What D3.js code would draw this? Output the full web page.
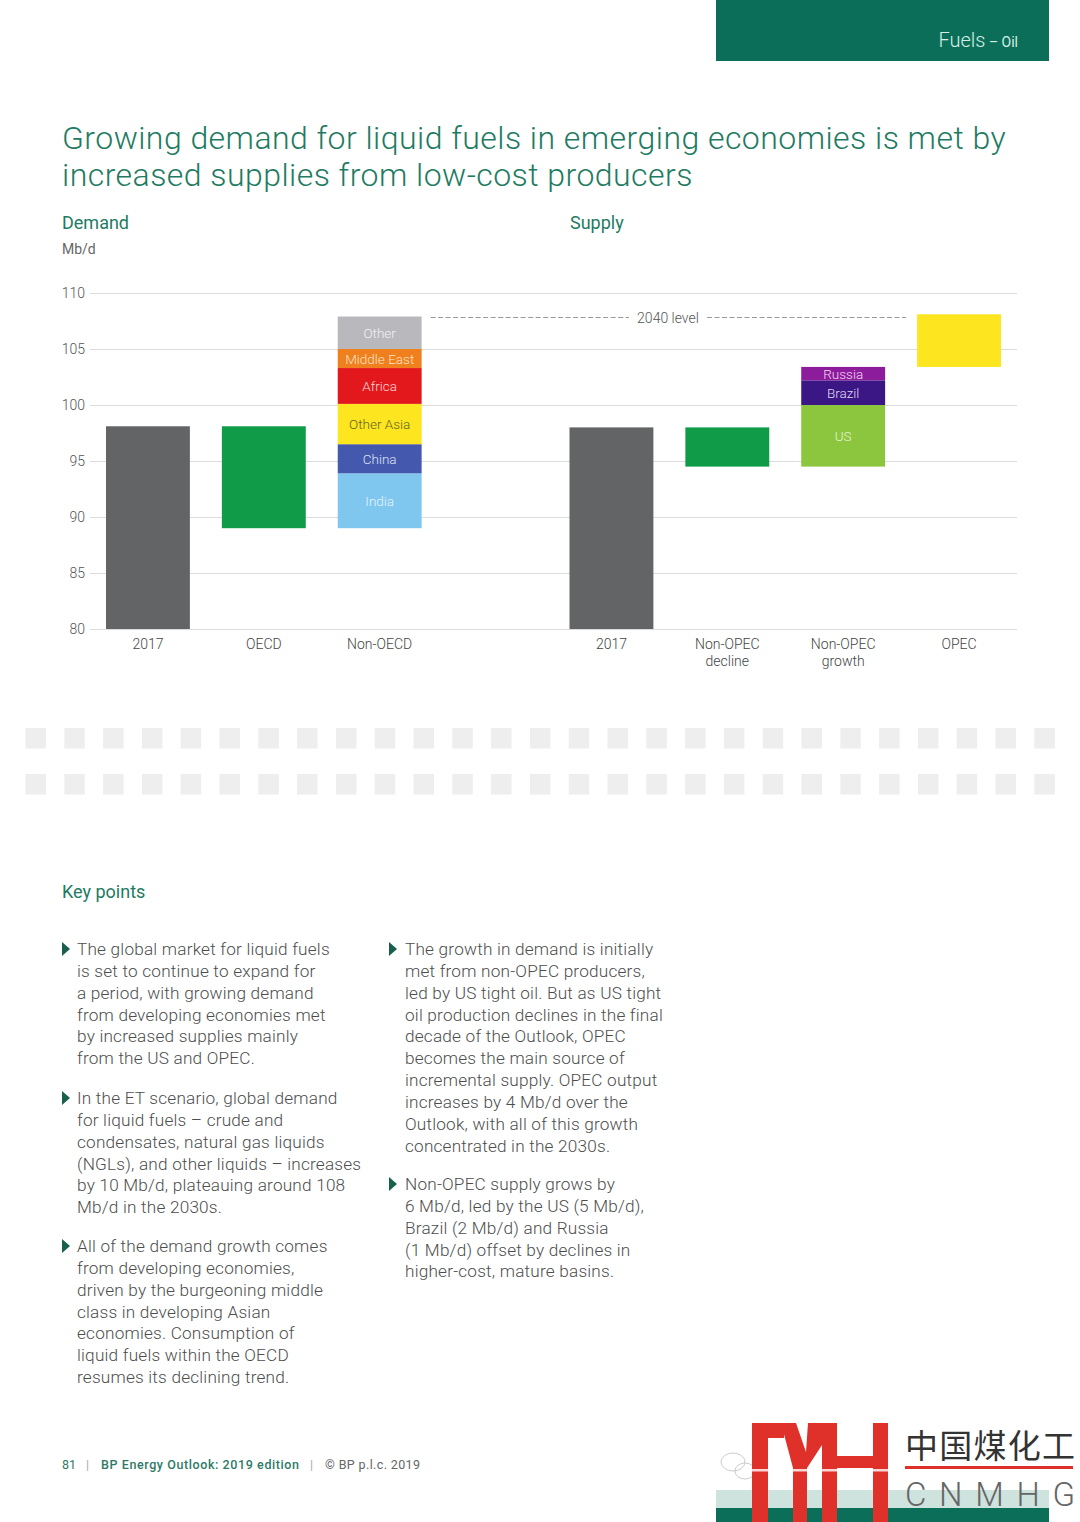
<!DOCTYPE html>
<html>
<head>
<meta charset="utf-8">
<script src="https://cdnjs.cloudflare.com/ajax/libs/d3/7.8.5/d3.min.js"></script>
<style>
  body { margin: 0; background: #fff; }
  svg { display: block; font-family: Roboto, "Liberation Sans", sans-serif; }
</style>
</head>
<body>
<script>
var w = 1080;
var h = 1522;

// slots along the x axis (one empty slot between demand and supply)
var slots = ["2017 demand", "OECD", "Non-OECD", "gap", "2017 supply", "Non-OPEC decline", "Non-OPEC growth", "OPEC"];
var slotLabels = [["2017"], ["OECD"], ["Non-OECD"], [], ["2017"], ["Non-OPEC", "decline"], ["Non-OPEC", "growth"], ["OPEC"]];
var yTicks = [80, 85, 90, 95, 100, 105, 110];

// demand, Mb/d
var demand2017 = 98.1;
var oecdChange = -9.1;
var nonOecdRegions = ["India", "China", "Other Asia", "Africa", "Middle East", "Other"];
var nonOecdValues = [4.9, 2.6, 3.6, 3.2, 1.7, 2.9];

// supply, Mb/d
var supply2017 = 98.0;
var nonOpecDecline = -3.5;
var growthRegions = ["US", "Brazil", "Russia"];
var growthValues = [5.5, 2.2, 1.2];
var opecChange = 4.7;

var colors = {
    "2017": "#636466", "OECD": "#0f9b47", "India": "#80c7ef", "China": "#4459ad",
    "Other Asia": "#fde51f", "Africa": "#e3181d", "Middle East": "#f07f1e", "Other": "#b9b9bd",
    "decline": "#0f9b47", "US": "#8cc63f", "Brazil": "#3a1785", "Russia": "#8c1c9c", "OPEC": "#fde51f"
};
var labelColors = {
    "India": "#e6f4fc", "China": "#dde2f5", "Other Asia": "#66661e", "Africa": "#fbd6d6",
    "Middle East": "#fde2c4", "Other": "#f2f2f2", "US": "#e4f3cf", "Brazil": "#e0d8f0", "Russia": "#f4d4f6"
};

// build waterfall segments
var segs = [];
segs.push({slot: "2017 demand", y0: 80, y1: demand2017, color: colors["2017"]});
var oecdEnd = demand2017 + oecdChange;
segs.push({slot: "OECD", y0: oecdEnd, y1: demand2017, color: colors["OECD"]});
var acc = oecdEnd;
nonOecdRegions.forEach(function (r, i) {
    segs.push({slot: "Non-OECD", y0: acc, y1: acc + nonOecdValues[i], color: colors[r], label: r});
    acc += nonOecdValues[i];
});
var level2040 = acc;
segs.push({slot: "2017 supply", y0: 80, y1: supply2017, color: colors["2017"]});
var declEnd = supply2017 + nonOpecDecline;
segs.push({slot: "Non-OPEC decline", y0: declEnd, y1: supply2017, color: colors["decline"]});
acc = declEnd;
growthRegions.forEach(function (r, i) {
    segs.push({slot: "Non-OPEC growth", y0: acc, y1: acc + growthValues[i], color: colors[r], label: r});
    acc += growthValues[i];
});
segs.push({slot: "OPEC", y0: acc, y1: acc + opecChange, color: colors["OPEC"]});

var svg = d3.select("body")
    .append("svg")
    .attr("width", w)
    .attr("height", h);

// header tab
svg.append("rect").attr("x", 716).attr("y", 0).attr("width", 333).attr("height", 61).attr("fill", "#0b6e59");
var ht = svg.append("text").attr("x", 1018).attr("y", 47).attr("text-anchor", "end").attr("fill", "#d6efe6");
ht.append("tspan").attr("font-size", 20).attr("font-weight", 300).text("Fuels");
ht.append("tspan").attr("font-size", 14).text(" \u2013 Oil");

// title
var teal = "#1e7b62";
svg.append("text").attr("x", 62).attr("y", 149).attr("font-size", 32).attr("font-weight", 300)
    .attr("letter-spacing", 0.45).attr("fill", teal)
    .text("Growing demand for liquid fuels in emerging economies is met by");
svg.append("text").attr("x", 62).attr("y", 186).attr("font-size", 32).attr("font-weight", 300)
    .attr("letter-spacing", 0.45).attr("fill", teal)
    .text("increased supplies from low-cost producers");

svg.append("text").attr("x", 62).attr("y", 229).attr("font-size", 18).attr("fill", teal).text("Demand");
svg.append("text").attr("x", 570).attr("y", 229).attr("font-size", 18).attr("fill", teal).text("Supply");
svg.append("text").attr("x", 62).attr("y", 254).attr("font-size", 14).attr("fill", "#666").text("Mb/d");

// scales
var x = d3.scaleBand().domain(slots).range([90, 1017]).paddingInner(0.276).paddingOuter(0.138);
var y = d3.scaleLinear().domain([80, 110]).range([629, 293]);

var grid = svg.append("g");
grid.selectAll("line").data(yTicks).enter().append("line")
    .attr("x1", 90).attr("x2", 1017)
    .attr("y1", function (d) { return y(d) + 0.5; })
    .attr("y2", function (d) { return y(d) + 0.5; })
    .attr("stroke", "#dcdcdc").attr("stroke-width", 1);

var yAxis = svg.append("g").attr("transform", "translate(90,0)")
    .call(d3.axisLeft(y).tickValues(yTicks).tickSize(0).tickPadding(5));
yAxis.select(".domain").remove();
yAxis.selectAll("text").attr("font-size", 14).attr("font-weight", 300).attr("fill", "#555")
    .attr("font-family", "Roboto, sans-serif");

// bars
svg.append("g").selectAll("rect").data(segs).enter().append("rect")
    .attr("x", function (d) { return x(d.slot); })
    .attr("width", x.bandwidth())
    .attr("y", function (d) { return y(d.y1); })
    .attr("height", function (d) { return y(d.y0) - y(d.y1); })
    .attr("fill", function (d) { return d.color; });

svg.append("g").selectAll("text").data(segs.filter(function (d) { return d.label; })).enter().append("text")
    .attr("x", function (d) { return x(d.slot) + x.bandwidth() / 2; })
    .attr("y", function (d) { return (y(d.y0) + y(d.y1)) / 2 + 5; })
    .attr("text-anchor", "middle")
    .attr("font-size", 13.5)
    .attr("font-weight", 300)
    .attr("fill", function (d) { return labelColors[d.label]; })
    .text(function (d) { return d.label; });

// x labels
var xl = svg.append("g").selectAll("text").data(slots).enter().append("text")
    .attr("x", function (d) { return x(d) + x.bandwidth() / 2; })
    .attr("y", 649)
    .attr("text-anchor", "middle")
    .attr("font-size", 14)
    .attr("font-weight", 300)
    .attr("fill", "#444");
xl.each(function (d, i) {
    var t = d3.select(this);
    slotLabels[i].forEach(function (s, j) {
        t.append("tspan").attr("x", x(d) + x.bandwidth() / 2).attr("dy", j ? 17 : 0).text(s);
    });
});

// 2040 level dashed line
var ly = Math.round(y(level2040)) + 0.5;
var lx0 = x("Non-OECD") + x.bandwidth() + 9;
var lx1 = x("OPEC") - 11;
svg.append("line").attr("x1", lx0).attr("x2", 629).attr("y1", ly).attr("y2", ly)
    .attr("stroke", "#9a9a9a").attr("stroke-dasharray", "5,2.5");
svg.append("line").attr("x1", 707).attr("x2", lx1).attr("y1", ly).attr("y2", ly)
    .attr("stroke", "#9a9a9a").attr("stroke-dasharray", "5,2.5");
svg.append("text").attr("x", 668).attr("y", ly + 5).attr("text-anchor", "middle")
    .attr("font-size", 14).attr("font-weight", 300).attr("fill", "#555").text("2040 level");

// decorative square rows
[728, 774].forEach(function (ry) {
    svg.append("g").selectAll("rect").data(d3.range(27)).enter().append("rect")
        .attr("x", function (i) { return 25.5 + i * 38.8; })
        .attr("y", ry).attr("width", 20.5).attr("height", 20.5)
        .attr("fill", "#eeeeef");
});

// key points
svg.append("text").attr("x", 62).attr("y", 898).attr("font-size", 18).attr("fill", teal).text("Key points");

var col1 = [
    ["The global market for liquid fuels", "is set to continue to expand for", "a period, with growing demand",
     "from developing economies met", "by increased supplies mainly", "from the US and OPEC."],
    ["In the ET scenario, global demand", "for liquid fuels \u2013 crude and", "condensates, natural gas liquids",
     "(NGLs), and other liquids \u2013 increases", "by 10 Mb/d, plateauing around 108", "Mb/d in the 2030s."],
    ["All of the demand growth comes", "from developing economies,", "driven by the burgeoning middle",
     "class in developing Asian", "economies. Consumption of", "liquid fuels within the OECD",
     "resumes its declining trend."]
];
var col2 = [
    ["The growth in demand is initially", "met from non-OPEC producers,", "led by US tight oil. But as US tight",
     "oil production declines in the final", "decade of the Outlook, OPEC", "becomes the main source of",
     "incremental supply. OPEC output", "increases by 4 Mb/d over the", "Outlook, with all of this growth",
     "concentrated in the 2030s."],
    ["Non-OPEC supply grows by", "6 Mb/d, led by the US (5 Mb/d),", "Brazil (2 Mb/d) and Russia",
     "(1 Mb/d) offset by declines in", "higher-cost, mature basins."]
];

function drawColumn(paras, bx, tx, starts) {
    paras.forEach(function (lines, p) {
        var top = starts[p];
        svg.append("path")
            .attr("d", "M" + bx + "," + (top - 13) + "L" + (bx + 8) + "," + (top - 6) + "L" + bx + "," + (top + 1) + "Z")
            .attr("fill", "#17604c");
        var t = svg.append("text").attr("font-size", 17.2).attr("font-weight", 300)
            .attr("letter-spacing", 0.2).attr("fill", "#4d4d4d");
        lines.forEach(function (s, j) {
            t.append("tspan").attr("x", tx).attr("y", top + j * 21.85).text(s);
        });
    });
}
drawColumn(col1, 62, 77, [955, 1104, 1252]);
drawColumn(col2, 389, 405, [955, 1190]);

// footer
var fy = 1469;
svg.append("text").attr("x", 62).attr("y", fy).attr("font-size", 12.5).attr("fill", "#2f7a66").text("81");
svg.append("text").attr("x", 86).attr("y", fy).attr("font-size", 12.5).attr("fill", "#aaa").text("|");
svg.append("text").attr("x", 101).attr("y", fy).attr("font-size", 12.5).attr("font-weight", 500)
    .attr("fill", "#2f7a66").attr("textLength", 198).text("BP Energy Outlook: 2019 edition");
svg.append("text").attr("x", 310).attr("y", fy).attr("font-size", 12.5).attr("fill", "#aaa").text("|");
svg.append("text").attr("x", 325).attr("y", fy).attr("font-size", 12.5).attr("fill", "#666")
    .attr("textLength", 95).text("\u00a9 BP p.l.c. 2019");

// bottom tab
svg.append("rect").attr("x", 716).attr("y", 1490).attr("width", 333).attr("height", 32).attr("fill", "#0b6e59");
svg.append("rect").attr("x", 716).attr("y", 1490).attr("width", 333).attr("height", 18).attr("fill", "#fff").attr("opacity", 0.8);

// watermark logo
svg.append("ellipse").attr("cx", 733).attr("cy", 1462).attr("rx", 12).attr("ry", 9)
    .attr("fill", "none").attr("stroke", "#ccc");
svg.append("ellipse").attr("cx", 745).attr("cy", 1471).attr("rx", 10).attr("ry", 8)
    .attr("fill", "none").attr("stroke", "#ccc");
var logo = svg.append("g").attr("fill", "#e0302a");
logo.append("rect").attr("x", 752).attr("y", 1423).attr("width", 16).attr("height", 99);
logo.append("rect").attr("x", 752).attr("y", 1423).attr("width", 32).attr("height", 15);
logo.append("path").attr("d", "M781,1423L796,1423L806,1452L808,1423L837,1423L837,1522L822,1522L822,1445L807,1468L807,1522L793,1522L793,1468Z");
logo.append("rect").attr("x", 873).attr("y", 1423).attr("width", 15).attr("height", 99);
logo.append("rect").attr("x", 837).attr("y", 1456).attr("width", 36).attr("height", 12);
svg.append("rect").attr("x", 750).attr("y", 1469).attr("width", 140).attr("height", 2.5).attr("fill", "#fff").attr("opacity", 0.8);

svg.append("text").attr("x", 905).attr("y", 1458).attr("font-size", 33)
    .attr("font-family", "'Noto Sans CJK SC', sans-serif").attr("fill", "#333")
    .attr("textLength", 170).text("中国煤化工");
svg.append("rect").attr("x", 905).attr("y", 1466).attr("width", 168).attr("height", 3).attr("fill", "#e0302a");
svg.append("text").attr("x", 905).attr("y", 1506).attr("font-size", 33).attr("font-weight", 300)
    .attr("fill", "#666").attr("textLength", 170).text("CNMHG");
</script>
</body>
</html>
